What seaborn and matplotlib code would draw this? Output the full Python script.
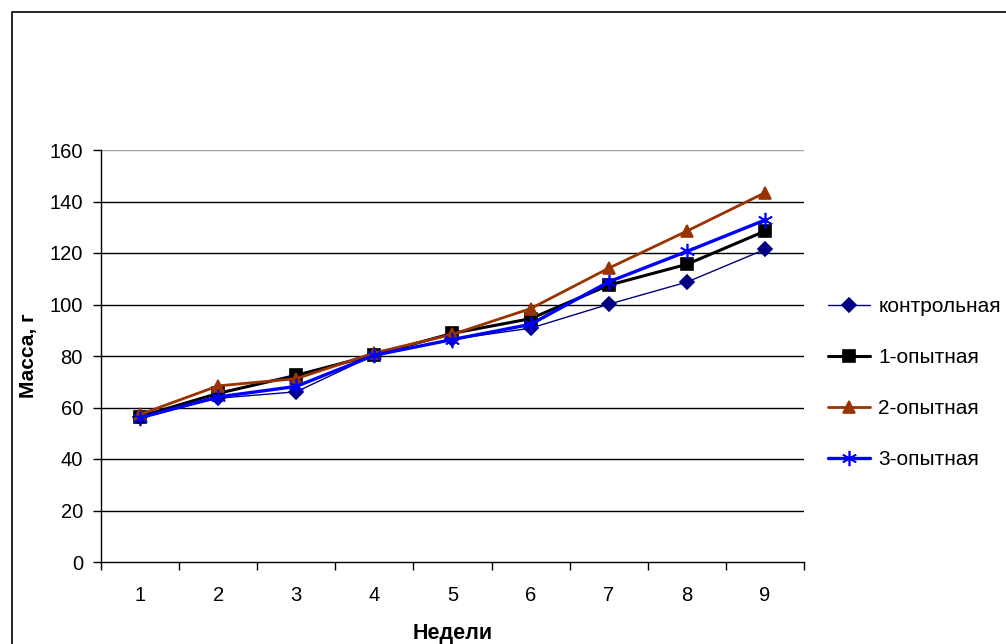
import matplotlib
matplotlib.use("Agg")
import matplotlib.pyplot as plt
import matplotlib.patches as patches
from matplotlib.ticker import FixedLocator
import seaborn as sns
import pandas as pd

# weekly body mass (g) per group
weeks = [1, 2, 3, 4, 5, 6, 7, 8, 9]
control = [56.3, 63.6, 66.1, 80.4, 86.5, 90.8, 100.1, 108.7, 121.4]
exp1 = [56.5, 65.5, 72.5, 80.5, 88.8, 94.5, 107.5, 115.6, 128.5]
exp2 = [57.3, 68.4, 71.2, 81.2, 88.4, 98.4, 114.1, 128.5, 143.4]
exp3 = [56.0, 64.1, 68.2, 80.3, 86.4, 92.3, 108.8, 120.6, 132.8]

labels = ["контрольная", "1-опытная", "2-опытная", "3-опытная"]
yticks = [0, 20, 40, 60, 80, 100, 120, 140, 160]

df = pd.DataFrame({"Недели": weeks * 4,
                   "Масса": control + exp1 + exp2 + exp3,
                   "Группа": [g for g in labels for _ in weeks]})

sns.set_style("white")
plt.rcParams["font.family"] = ["Liberation Sans", "DejaVu Sans"]
plt.rcParams["text.color"] = "black"
plt.rcParams["axes.labelcolor"] = "black"
plt.rcParams["xtick.color"] = "black"
plt.rcParams["ytick.color"] = "black"

fig = plt.figure(figsize=(10.06, 6.44), dpi=100)
ax = fig.add_axes([101 / 1006, 1 - 562 / 644, 703 / 1006, 412 / 644])

styles = {
    "контрольная": dict(color="#000080", marker="D", markersize=7, lw=1.0),
    "1-опытная": dict(color="#000000", marker="s", markersize=8, lw=2.2),
    "2-опытная": dict(color="#993300", marker="^", markersize=9, lw=2.0),
    "3-опытная": dict(color="#0000FF", marker=(6, 2, 0), markersize=11, lw=2.4),
}

for g in labels:
    s = styles[g]
    sns.lineplot(data=df[df["Группа"] == g], x="Недели", y="Масса", ax=ax,
                 color=s["color"], marker=s["marker"], markersize=s["markersize"],
                 linewidth=s["lw"], markeredgecolor=s["color"], markeredgewidth=1.2,
                 label=g)

ax.set_xlim(0.5, 9.5)
ax.set_ylim(0, 160)
ax.set_yticks(yticks)
ax.set_yticklabels([str(v) for v in yticks], fontsize=14.5)

# category boundaries carry the tick marks, labels sit in the middle
ax.xaxis.set_major_locator(FixedLocator([w - 0.5 for w in weeks] + [9.5]))
ax.xaxis.set_minor_locator(FixedLocator(weeks))
ax.set_xticklabels([])
ax.set_xticklabels([str(w) for w in weeks], minor=True, fontsize=14.5)
ax.tick_params(axis="x", which="major", direction="out", length=6, width=1, color="black", bottom=True)
ax.tick_params(axis="x", which="minor", length=0, pad=17)
ax.tick_params(axis="y", direction="out", length=6, width=1, color="black", left=True, pad=7)

for v in yticks[1:-1]:
    ax.axhline(v, color="black", lw=1.0, zorder=0)
ax.axhline(160, color="#a0a0a0", lw=1.0, zorder=0)

sns.despine(ax=ax, top=True, right=True)
ax.spines["left"].set_color("black")
ax.spines["bottom"].set_color("black")
ax.spines["left"].set_linewidth(1)
ax.spines["bottom"].set_linewidth(1)

ax.set_xlabel("Недели", fontsize=15.5, fontweight="bold", labelpad=13)
ax.set_ylabel("Масса, г", fontsize=15, fontweight="bold", labelpad=8)

leg = ax.legend(loc="upper left", bbox_to_anchor=(818 / 1006, 1 - 287 / 644),
                bbox_transform=fig.transFigure, frameon=False, fontsize=15,
                handlelength=2.0, handletextpad=0.4, labelspacing=1.53, borderpad=0)

# chart area border (cut off at the right and bottom in the reference)
fig.patches.append(patches.Rectangle((12 / 1006, -0.1), 1.2, 1 - 12 / 644 + 0.1,
                                     transform=fig.transFigure, fill=False,
                                     edgecolor="black", lw=1.2))

fig.savefig("out.png", dpi=100)
